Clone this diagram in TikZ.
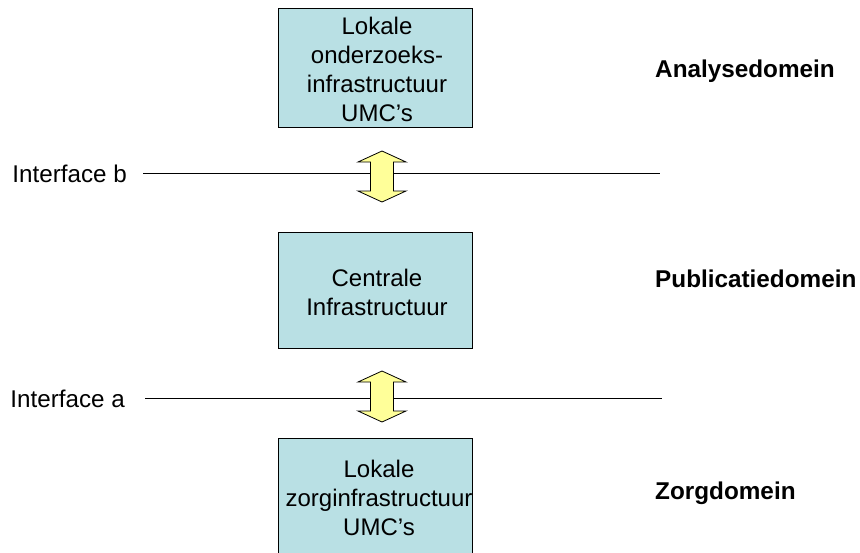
\documentclass[tikz,border=0pt]{standalone}
\usepackage{fontspec}
\setmainfont{Liberation Sans}
\begin{document}
\begin{tikzpicture}[x=1pt,y=-1pt,
  box/.style={draw=black, line width=1pt, fill=boxblue, minimum width=194pt, inner sep=0pt},
  boxtext/.style={align=center, inner sep=0pt, font=\fontsize{24}{29}\selectfont},
  lbl/.style={font=\fontsize{24.2}{29}\selectfont, inner sep=0pt},
  dom/.style={font=\bfseries\fontsize{24.3}{29}\selectfont, anchor=west, inner sep=0pt},
  iface/.style={line width=1pt},
  dblarrow/.style={draw=black, line width=0.8pt, fill=arrowyellow, line join=miter}]
\definecolor{boxblue}{RGB}{185,224,228}
\definecolor{arrowyellow}{RGB}{255,255,153}
\useasboundingbox (0,0) rectangle (860,552);
\begin{scope}
\clip (0,0) rectangle (860,552);
% domain blocks
\node[box, minimum height=119pt] (lok) at (375,67.5) {};
\node[box, minimum height=116pt] (cen) at (375,290) {};
\node[box, minimum height=120pt] (zorg) at (375,498) {};
\node[boxtext] (lokt) at ([xshift=2pt,yshift=-2pt]lok.center) {Lokale\\onderzoeks-\\infrastructuur\\UMC’s};
\node[boxtext] (cent) at ([xshift=2pt,yshift=-2pt]cen.center) {Centrale\\Infrastructuur};
\node[boxtext] (zorgt) at ([xshift=4pt,yshift=0pt]zorg.center) {Lokale\\zorginfrastructuur\\UMC’s};
\end{scope}
% interface lines
\node[lbl, anchor=east] (ib) at (127,174) {Interface b};
\node[lbl, anchor=east] (ia) at (125,399) {Interface a};
\coordinate (ibs) at (143,173);
\coordinate (ibe) at (660,173);
\coordinate (ias) at (145,398);
\coordinate (iae) at (662,398);
\draw[iface] (ibs) -- (ibe);
\draw[iface] (ias) -- (iae);
% double arrows between the domains
\coordinate (ab) at (382,176.5);
\coordinate (aa) at (382,396.5);
\foreach \c in {ab,aa}{
  \draw[dblarrow] ([shift={(0,-25.5)}]\c) -- ++(24,11) -- ++(-12.5,0) -- ++(0,29) -- ++(12.5,0)
    -- ([shift={(0,25.5)}]\c) -- ++(-24,-11) -- ++(12.5,0) -- ++(0,-29) -- ++(-12.5,0) -- cycle;
}
% domain labels
\node[dom] (an) at (655,71) {Analysedomein};
\node[dom] (pu) at (655,279) {Publicatiedomein};
\node[dom] (zo) at (655,493) {Zorgdomein};
\end{tikzpicture}
\end{document}
